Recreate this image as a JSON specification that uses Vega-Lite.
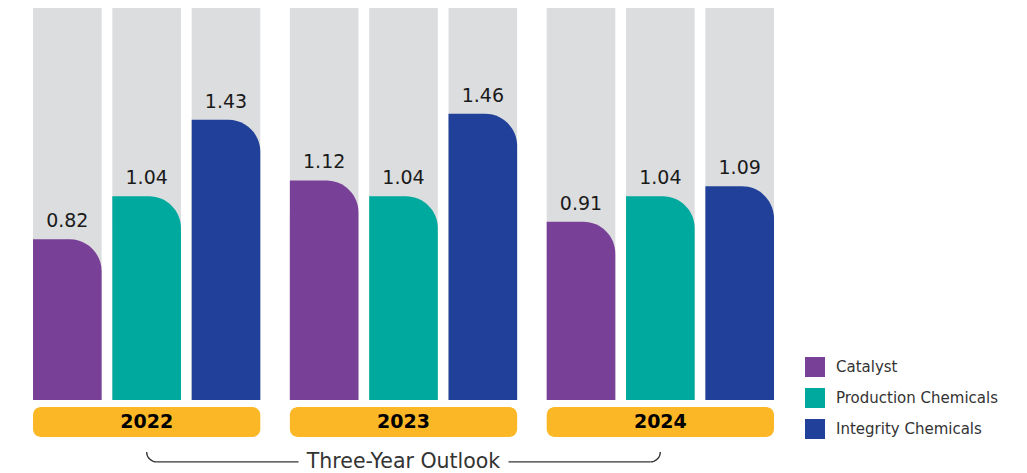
{
  "$schema": "https://vega.github.io/schema/vega-lite/v6.json",
  "width": 741,
  "height": 473,
  "autosize": {"type": "none"},
  "padding": {"left": 33, "top": 0, "right": 253, "bottom": 0},
  "background": "white",
  "config": {"view": {"stroke": null}, "font": "DejaVu Sans"},
  "datasets": {
    "bars": [
      {"year": "2022", "series": "Catalyst", "value": 0.82},
      {"year": "2022", "series": "Production Chemicals", "value": 1.04},
      {"year": "2022", "series": "Integrity Chemicals", "value": 1.43},
      {"year": "2023", "series": "Catalyst", "value": 1.12},
      {"year": "2023", "series": "Production Chemicals", "value": 1.04},
      {"year": "2023", "series": "Integrity Chemicals", "value": 1.46},
      {"year": "2024", "series": "Catalyst", "value": 0.91},
      {"year": "2024", "series": "Production Chemicals", "value": 1.04},
      {"year": "2024", "series": "Integrity Chemicals", "value": 1.09}
    ],
    "years": [{"year": "2022"}, {"year": "2023"}, {"year": "2024"}],
    "caption": [{"text": "Three-Year Outlook"}]
  },
  "encoding": {
    "x": {"field": "year", "type": "nominal", "axis": null, "sort": ["2022", "2023", "2024"],
          "scale": {"domain": ["2022", "2023", "2024"], "paddingInner": 0.115, "paddingOuter": 0}}
  },
  "layer": [
    {
      "data": {"name": "bars"},
      "mark": {"type": "bar", "color": "#DCDDDF"},
      "encoding": {
        "xOffset": {"field": "series", "type": "nominal", "sort": ["Catalyst", "Production Chemicals", "Integrity Chemicals"],
                    "scale": {"paddingInner": 0.135, "paddingOuter": 0}},
        "y": {"datum": 0, "type": "quantitative", "axis": null,
              "scale": {"domain": [-0.3724, 2.0408], "nice": false, "zero": false}},
        "y2": {"datum": 2}
      }
    },
    {
      "data": {"name": "bars"},
      "mark": {"type": "bar", "cornerRadiusTopRight": 32},
      "encoding": {
        "xOffset": {"field": "series", "type": "nominal", "sort": ["Catalyst", "Production Chemicals", "Integrity Chemicals"]},
        "y": {"field": "value", "type": "quantitative"},
        "y2": {"datum": 0},
        "color": {"field": "series", "type": "nominal",
                  "scale": {"domain": ["Catalyst", "Production Chemicals", "Integrity Chemicals"],
                            "range": ["#784097", "#00A99D", "#21409A"]},
                  "legend": {"title": null, "orient": "none", "legendX": 772, "legendY": 357,
                             "symbolType": "square", "symbolSize": 400, "symbolStrokeWidth": 0, "symbolOpacity": 1,
                             "labelFont": "DejaVu Sans", "labelFontSize": 15, "labelColor": "#333333",
                             "labelOffset": 11, "rowPadding": 11, "labelLimit": 300}}
      }
    },
    {
      "data": {"name": "bars"},
      "mark": {"type": "text", "baseline": "alphabetic", "dy": -12, "fontSize": 19, "color": "#1a1a1a"},
      "encoding": {
        "xOffset": {"field": "series", "type": "nominal", "sort": ["Catalyst", "Production Chemicals", "Integrity Chemicals"]},
        "y": {"field": "value", "type": "quantitative"},
        "text": {"field": "value", "type": "quantitative", "format": ".2f"}
      }
    },
    {
      "data": {"name": "years"},
      "mark": {"type": "bar", "color": "#FBB726", "cornerRadius": 8},
      "encoding": {
        "y": {"datum": -0.0357},
        "y2": {"datum": -0.1888}
      }
    },
    {
      "data": {"name": "years"},
      "mark": {"type": "text", "baseline": "middle", "fontSize": 19, "fontWeight": "bold", "color": "#000000"},
      "encoding": {
        "y": {"datum": -0.112},
        "text": {"field": "year", "type": "nominal"}
      }
    },
    {
      "data": {"name": "caption"},
      "mark": {"type": "rule", "color": "#333333", "strokeWidth": 1.3, "xOffset": 10, "x2Offset": -105},
      "encoding": {
        "x": {"datum": "2022"},
        "x2": {"datum": "2023"},
        "y": {"datum": -0.316}
      }
    },
    {
      "data": {"name": "caption"},
      "mark": {"type": "rule", "color": "#333333", "strokeWidth": 1.3, "xOffset": 105, "x2Offset": -10},
      "encoding": {
        "x": {"datum": "2023"},
        "x2": {"datum": "2024"},
        "y": {"datum": -0.316}
      }
    },
    {
      "data": {"name": "caption"},
      "mark": {"type": "arc", "color": "#333333", "radius": 10.65, "radius2": 9.35, "theta": 3.14159, "theta2": 4.71239, "xOffset": 10},
      "encoding": {
        "x": {"datum": "2022"},
        "y": {"datum": -0.265}
      }
    },
    {
      "data": {"name": "caption"},
      "mark": {"type": "arc", "color": "#333333", "radius": 10.65, "radius2": 9.35, "theta": 1.5708, "theta2": 3.14159, "xOffset": -10},
      "encoding": {
        "x": {"datum": "2024"},
        "y": {"datum": -0.265}
      }
    },
    {
      "data": {"name": "caption"},
      "mark": {"type": "text", "baseline": "middle", "fontSize": 20.5, "color": "#333333"},
      "encoding": {
        "x": {"datum": "2023"},
        "y": {"datum": -0.316},
        "text": {"field": "text", "type": "nominal"}
      }
    }
  ]
}
